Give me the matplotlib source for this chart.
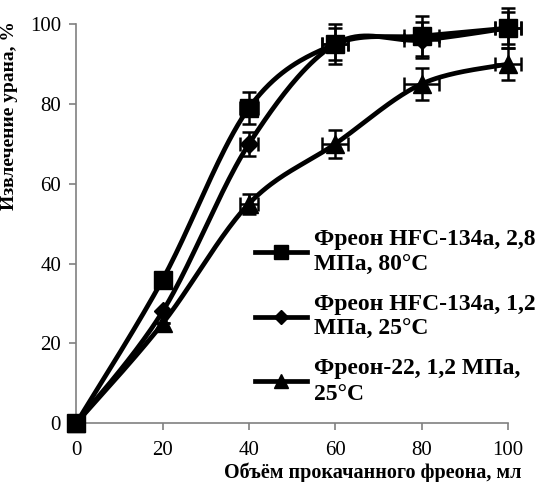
import numpy as np
import matplotlib
matplotlib.use("Agg")
import matplotlib.pyplot as plt

plt.rcParams['font.family'] = ['Liberation Serif', 'DejaVu Serif']

# Данные
volumen = [0, 20, 40, 60, 80, 100]
hfc_28 = [0, 36, 79, 95, 97, 99]
hfc_12 = [0, 28, 70, 95, 96, 99]
freon22 = [0, 25, 55, 70, 85, 90]

yerr_hfc_28 = [0, 0, 4, 5, 5, 5]
yerr_hfc_12 = [0, 0, 3, 4, 4.5, 4]
yerr_freon22 = [0, 0, 2.5, 3.5, 4, 4]
xerr = [0, 0, 2, 3, 4, 3]

etiquetas = ["Фреон HFC-134a, 2,8\nМПа, 80°C",
             "Фреон HFC-134a, 1,2\nМПа, 25°C",
             "Фреон-22, 1,2 МПа,\n25°C"]
marcadores = ["s", "D", "^"]
tamanos = [13, 9, 13]


def suavizar(x, y, n=40):
    """Curva suavizada tipo Excel (Bezier cúbica por tramos)."""
    x = np.asarray(x, float)
    y = np.asarray(y, float)
    xs, ys = [], []
    for i in range(len(x) - 1):
        p0 = np.array([x[max(i - 1, 0)], y[max(i - 1, 0)]])
        p1 = np.array([x[i], y[i]])
        p2 = np.array([x[i + 1], y[i + 1]])
        p3 = np.array([x[min(i + 2, len(x) - 1)], y[min(i + 2, len(x) - 1)]])
        c1 = p1 + (p2 - p0) / 6
        c2 = p2 - (p3 - p1) / 6
        t = np.linspace(0, 1, n)[:, None]
        pts = ((1 - t) ** 3) * p1 + 3 * ((1 - t) ** 2) * t * c1 + 3 * (1 - t) * t ** 2 * c2 + t ** 3 * p2
        xs.extend(pts[:, 0])
        ys.extend(pts[:, 1])
    return xs, ys


fig = plt.figure(figsize=(5.41, 4.82), dpi=100)
ax = fig.add_axes([0.141, 0.122, 0.798, 0.828])

series = [hfc_28, hfc_12, freon22]
errores = [yerr_hfc_28, yerr_hfc_12, yerr_freon22]
for serie, err, mk, ms, lab in zip(series, errores, marcadores, tamanos, etiquetas):
    xs, ys = suavizar(volumen, serie)
    ax.plot(xs, ys, color="black", lw=3.4, zorder=3, clip_on=False)
    ax.errorbar(volumen, serie, yerr=err, xerr=xerr, fmt="none", ecolor="black",
                elinewidth=1.8, capsize=5, capthick=1.8, zorder=4, clip_on=False)
    ax.plot(volumen, serie, linestyle="none", marker=mk, markersize=ms, color="black",
            zorder=5, clip_on=False)
    ax.plot([], [], color="black", lw=3.4, marker=mk, markersize=ms * 0.8, label=lab)

ax.set_xlim(0, 100)
ax.set_ylim(0, 100)
ax.set_xticks(range(0, 101, 20))
ax.set_yticks(range(0, 101, 20))
for lado in ["top", "right"]:
    ax.spines[lado].set_visible(False)
for lado in ["left", "bottom"]:
    ax.spines[lado].set_color("#808080")
    ax.spines[lado].set_linewidth(1.2)
ax.tick_params(axis="both", colors="#808080", labelcolor="black", labelsize=15,
               length=5, width=1.2, direction="out")
ax.tick_params(axis="x", pad=8)
ax.tick_params(axis="y", pad=6)

ax.set_xlabel("Объём прокачанного фреона, мл", fontsize=14.5, fontweight="bold")
ax.xaxis.set_label_coords(0.686, -0.098)
ax.set_ylabel("Извлечение урана, %", fontsize=14, fontweight="bold")
ax.yaxis.set_label_coords(-0.135, 0.77)

leyenda = ax.legend(loc="upper left", bbox_to_anchor=(0.393, 0.51), frameon=False,
                    prop={"size": 17, "weight": "bold"}, handlelength=2.2, numpoints=1,
                    labelspacing=0.75, handletextpad=0.3, borderaxespad=0)
for txt in leyenda.get_texts():
    txt.set_linespacing(1.3)

fig.savefig("out.png", dpi=100)
